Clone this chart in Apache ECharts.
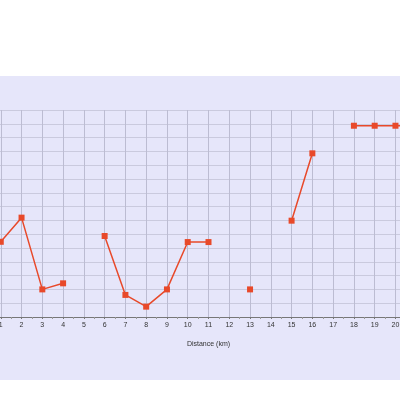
<!DOCTYPE html>
<html>
<head>
<meta charset="utf-8">
<script src="https://cdn.jsdelivr.net/npm/echarts@6/dist/echarts.min.js"></script>
<style>
	html, body { margin: 0; padding: 0; background: #fff; }
	#chart { position: absolute; left: 0; top: 76px; width: 400px; height: 304px; background: #e6e6fa; }
</style>
</head>
<body>
<div id="chart"></div>
<script>
// distance (km) and measured values, null = no reading
const distance = [1, 2, 3, 4, 5, 6, 7, 8, 9, 10, 11, 12, 13, 14, 15, 16, 17, 18, 19, 20, 21];
const values = [5.45, 7.2, 2.0, 2.44, null, 5.87, 1.6, 0.75, 2.0, 5.43, 5.43, null, 2.0, null, 6.98, 11.86, null, 13.86, 13.86, 13.86, 13.86];

const chart = echarts.init(document.getElementById("chart"));

chart.setOption({
	animation: false,
	grid: {
		left: -20,
		right: -37,
		top: 34,
		bottom: 63,
		outerBoundsMode: "none",
		containLabel: false,
	},
	xAxis: {
		type: "value",
		min: 0,
		max: 22,
		interval: 1,
		name: "Distance (km)",
		nameLocation: "middle",
		nameGap: 24,
		nameTextStyle: { fontSize: 7, color: "#333", fontFamily: "Liberation Sans" },
		axisLine: { lineStyle: { color: "#777", width: 1 } },
		axisTick: { length: 2, lineStyle: { color: "#777" } },
		minorTick: { show: true, splitNumber: 2, length: 2, lineStyle: { color: "#999" } },
		axisLabel: {
			fontSize: 7,
			color: "#333",
			margin: 5,
			fontFamily: "Liberation Sans",
			formatter: (v) => (v >= 1 && v <= 20 ? String(v) : ""),
		},
		splitLine: { show: true, lineStyle: { color: "#bcbcd2", width: 1 } },
	},
	yAxis: {
		type: "value",
		min: 0,
		max: 15,
		interval: 1,
		axisLine: { show: false },
		axisTick: { show: false },
		axisLabel: { show: false },
		splitLine: { show: true, lineStyle: { color: "#cacade", width: 1 } },
	},
	series: [
		{
			type: "line",
			data: distance.map((d, i) => [d, values[i]]),
			connectNulls: false,
			symbol: "rect",
			symbolSize: 6,
			lineStyle: { color: "#e8492a", width: 1.5 },
			itemStyle: { color: "#e8492a" },
		},
	],
});
</script>
</body>
</html>
